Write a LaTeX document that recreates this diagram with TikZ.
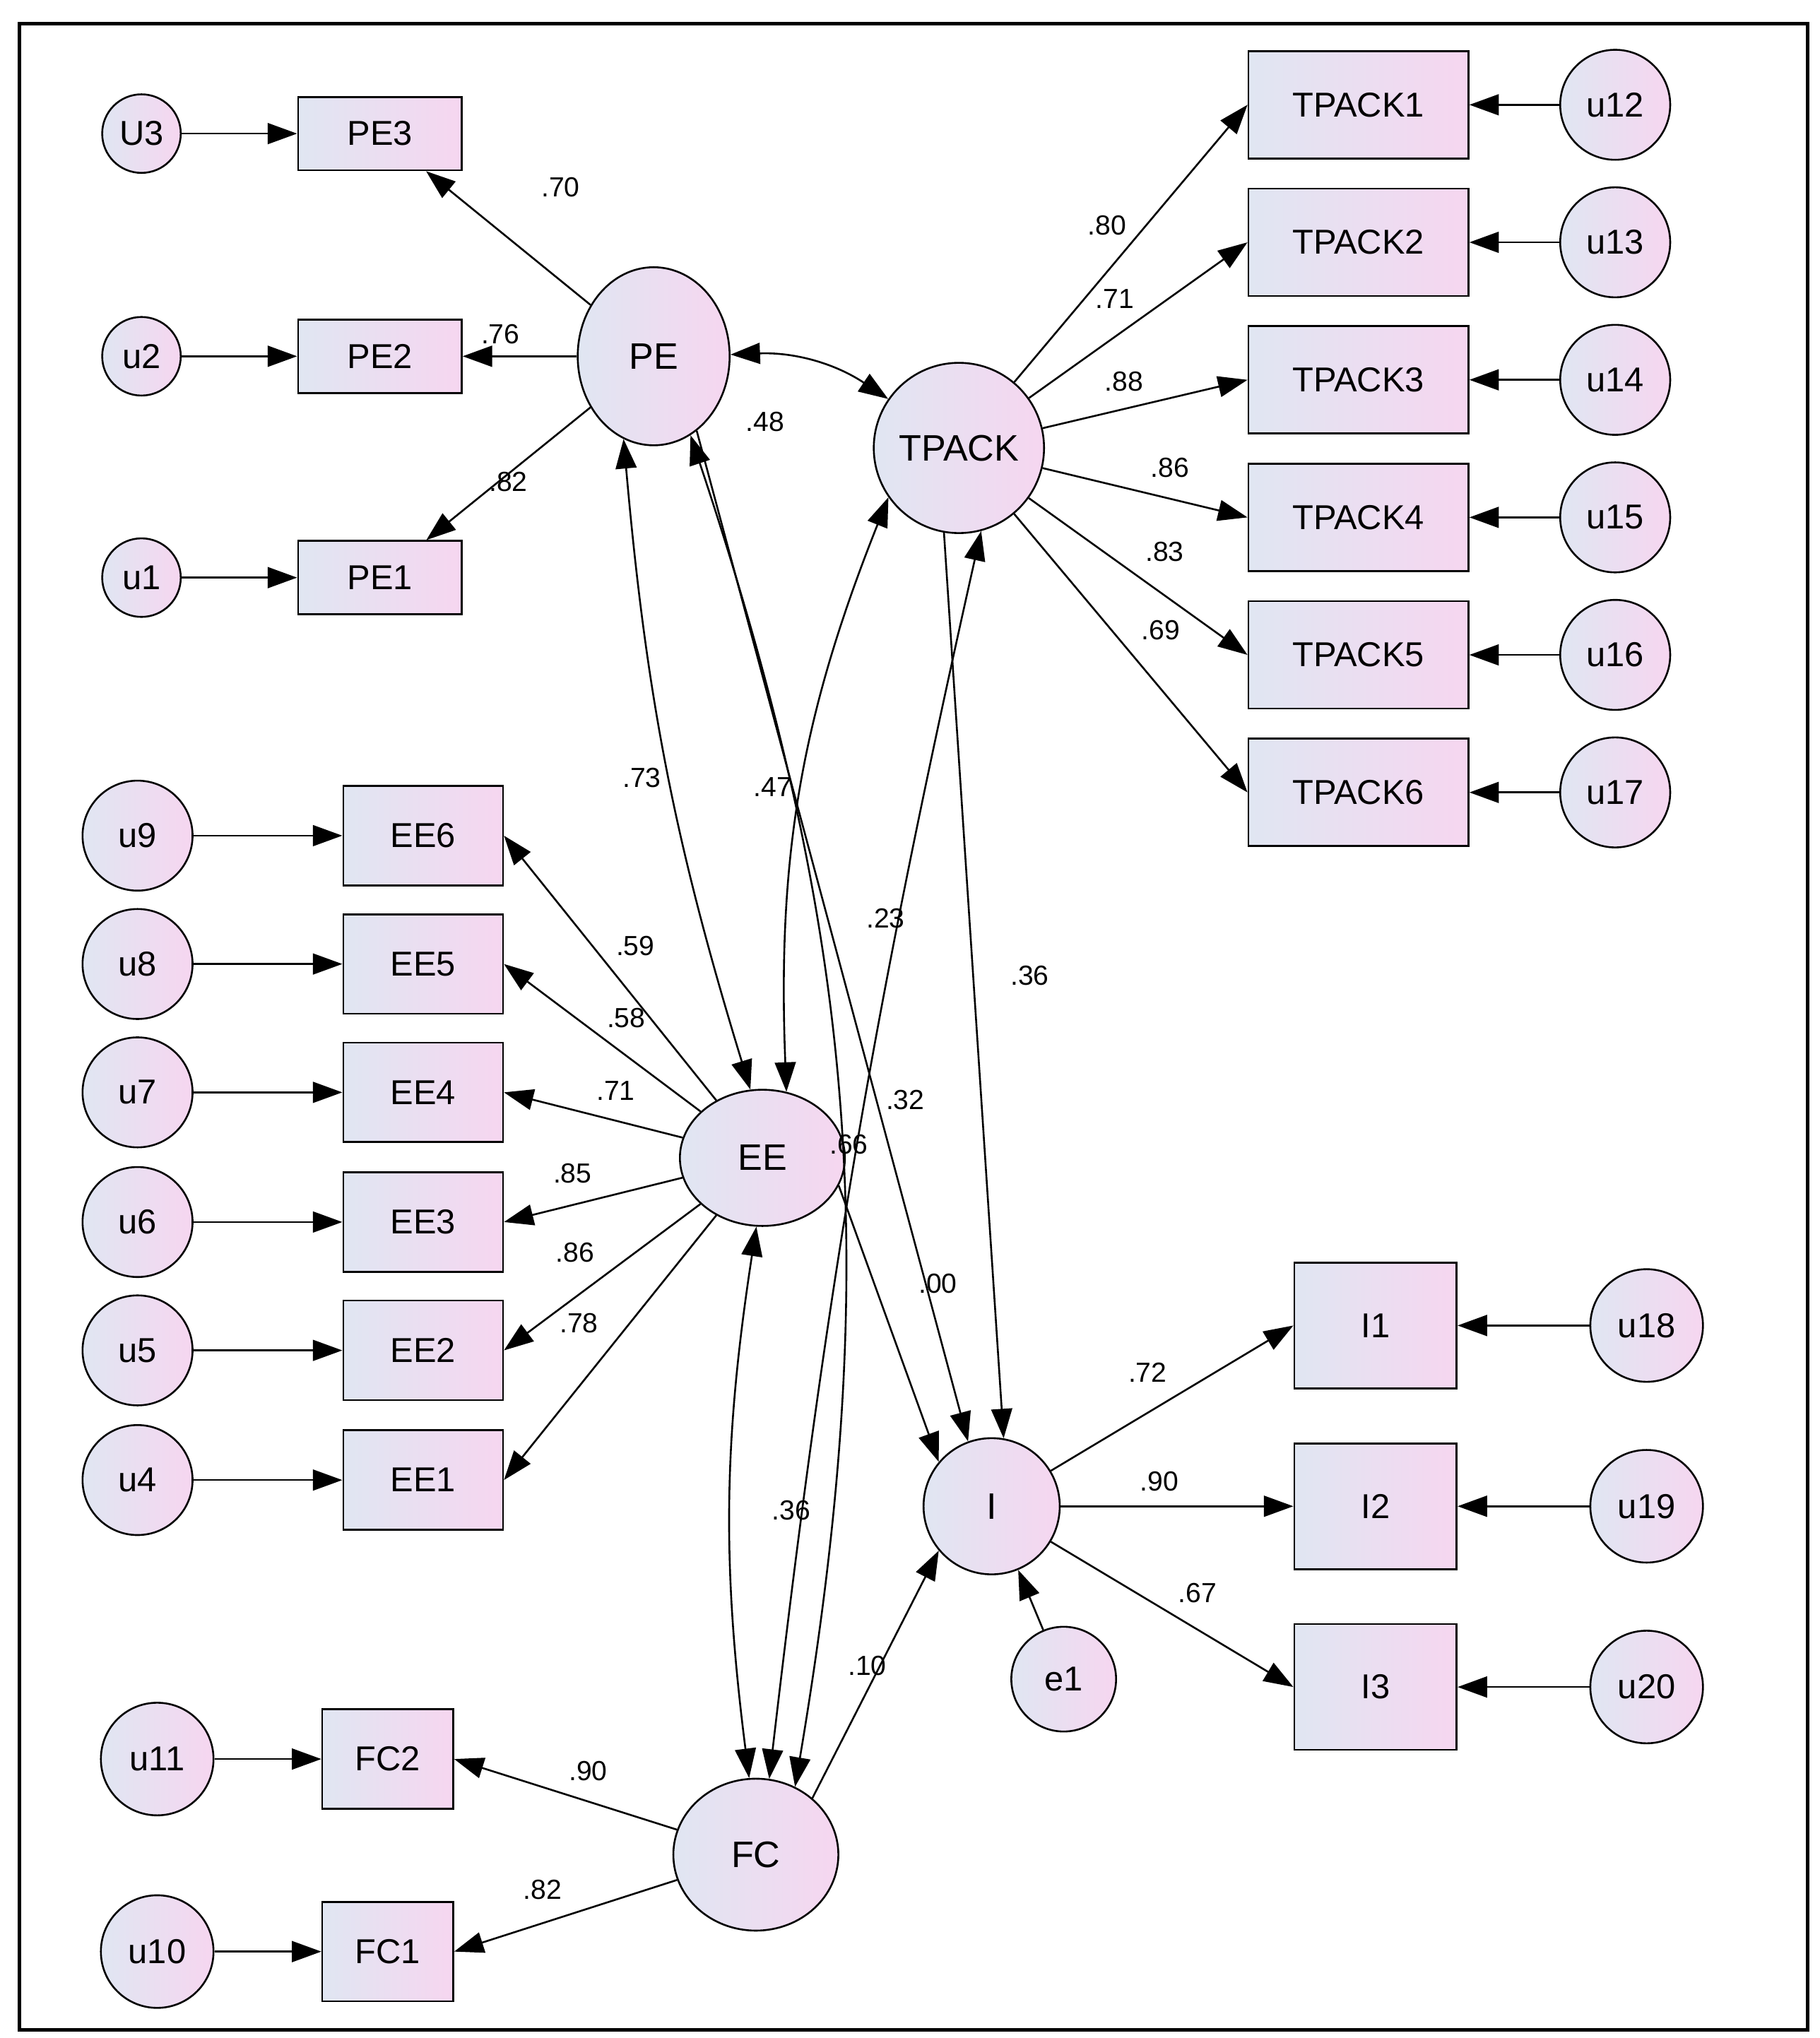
\documentclass[tikz,border=0pt]{standalone}
\usepackage{fontspec}
\setmainfont{Liberation Sans}
\usetikzlibrary{arrows.meta,shapes.geometric}
\definecolor{cl}{RGB}{224,230,242}
\definecolor{cp}{RGB}{246,214,240}
\begin{document}
\begin{tikzpicture}[x=0.02cm,y=-0.02cm,
 obs/.style={draw,thick,left color=cl,right color=cp,minimum width=#1,font=\fontsize{15}{15}\selectfont,inner sep=0pt},
 lat/.style={draw,thick,ellipse,left color=cl,right color=cp,font=\fontsize{16}{16}\selectfont,inner sep=0pt},
 err/.style={draw,thick,circle,left color=cl,right color=cp,minimum size=#1,font=\fontsize{15}{15}\selectfont,inner sep=0pt},
 ar/.style={thick,-{Triangle[length=4.5mm,width=3.2mm]}},
 dar/.style={thick,{Triangle[length=4.5mm,width=3.2mm]}-{Triangle[length=4.5mm,width=3.2mm]}},
 lb/.style={font=\fontsize{12}{12}\selectfont,inner sep=1pt}]
\useasboundingbox (0,0) rectangle (1389,1556);
\draw[line width=1.5pt] (15,18) rectangle (1380,1550);
% latent
\node[lat,minimum width=116\pgflinewidth*0+2.32cm,minimum height=2.72cm] (PE) at (499,272) {PE};
\node[lat,minimum width=2.6cm,minimum height=2.6cm] (TP) at (732,342) {TPACK};
\node[lat,minimum width=2.52cm,minimum height=2.08cm] (EE) at (582,884) {EE};
\node[lat,minimum width=2.08cm,minimum height=2.08cm] (I) at (757,1150) {I};
\node[lat,minimum width=2.52cm,minimum height=2.32cm] (FC) at (577,1416) {FC};
\node[err=1.6cm] (e1) at (812,1282) {e1};
% PE
\foreach \n/\y/\u in {3/102/U3,2/272/u2,1/441/u1}{
 \node[obs=2.5cm,minimum height=1.12cm] (PE\n) at (290,\y) {PE\n};
 \node[err=1.2cm] (u\n p) at (108,\y) {\u};
 \draw[ar] (u\n p) -- (PE\n);
 \draw[ar] (PE) -- (PE\n);}
% TPACK
\foreach \n/\y/\u in {1/80/12,2/185/13,3/290/14,4/395/15,5/500/16,6/605/17}{
 \node[obs=3.36cm,minimum height=1.64cm] (T\n) at (1037,\y) {TPACK\n};
 \node[err=1.68cm] (u\u) at (1233,\y) {u\u};
 \draw[ar] (u\u) -- (T\n);
 \draw[ar] (TP) -- (T\n.west);}
% EE
\foreach \n/\y/\u in {6/638/9,5/736/8,4/834/7,3/933/6,2/1031/5,1/1130/4}{
 \node[obs=2.44cm,minimum height=1.52cm] (E\n) at (323,\y) {EE\n};
 \node[err=1.68cm] (u\u) at (105,\y) {u\u};
 \draw[ar] (u\u) -- (E\n);
 \draw[ar] (EE) -- (E\n.east);}
% I
\foreach \n/\y/\u in {1/1012/18,2/1150/19,3/1288/20}{
 \node[obs=2.48cm,minimum height=1.92cm] (I\n) at (1050,\y) {I\n};
 \node[err=1.72cm] (u\u) at (1257,\y) {u\u};
 \draw[ar] (u\u) -- (I\n);
 \draw[ar] (I) -- (I\n.west);}
% FC
\foreach \n/\y/\u in {2/1343/11,1/1490/10}{
 \node[obs=2cm,minimum height=1.52cm] (F\n) at (296,\y) {FC\n};
 \node[err=1.72cm] (u\u) at (120,\y) {u\u};
 \draw[ar] (u\u) -- (F\n);
 \draw[ar] (FC) -- (F\n.east);}
\draw[ar] (e1) -- (I);
% structural
\draw[dar] (PE) to[bend left=18] (TP);
\draw[dar] (PE.-110) to[bend right=6] (EE.100);
\draw[dar] (TP.-145) to[bend right=12] (EE.70);
\draw[dar] (EE.-95) to[bend right=8] (FC.95);
\draw[dar] (PE.-65) to[bend left=14] (FC.60);
\draw[dar] (TP.-75) to[bend right=3] (FC.80);
\draw[ar] (PE.-60) -- (I.110);
\draw[ar] (TP.-100) -- (I.80);
\draw[ar] (EE.-20) -- (I.140);
\draw[ar] (FC.45) -- (I.-140);
% labels
\foreach \x/\y/\t [count=\i] in {428/143/.70,382/255/.76,388/368/.82,584/322/.48,845/172/.80,851/228/.71,858/291/.88,893/357/.86,889/421/.83,886/481/.69,490/594/.73,590/601/.47,676/701/.23,786/745/.36,485/722/.59,478/777/.58,470/833/.71,437/896/.85,691/840/.32,648/874/.66,439/956/.86,442/1010/.78,716/980/.00,876/1048/.72,885/1131/.90,914/1216/.67,604/1153/.36,662/1272/.10,449/1352/.90,414/1443/.82}
 \node[lb] (l\i) at (\x,\y) {\t};
\end{tikzpicture}
\end{document}
